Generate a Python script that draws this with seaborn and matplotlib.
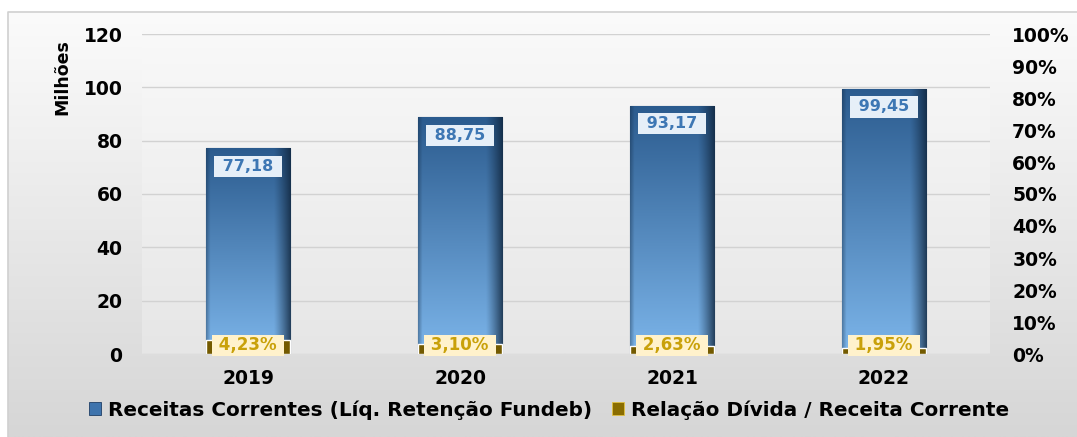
import numpy as np
import pandas as pd
import seaborn as sns
import matplotlib.pyplot as plt
from matplotlib.patches import Patch
from matplotlib.colors import to_rgb

# Dados do gráfico
anos = ['2019', '2020', '2021', '2022']
receitas = [77.18, 88.75, 93.17, 99.45]  # milhões
relacao = [4.23, 3.10, 2.63, 1.95]  # %
rotulos_receita = ['77,18', '88,75', '93,17', '99,45']
rotulos_relacao = ['4,23%', '3,10%', '2,63%', '1,95%']

df = pd.DataFrame({'Ano': anos, 'Receita': receitas, 'Relacao': relacao})

sns.set_theme(style="white")
plt.rcParams['font.family'] = ['DejaVu Sans']
plt.rcParams['font.weight'] = 'bold'
plt.rcParams['text.color'] = 'black'

W, H = 1077, 437
fig = plt.figure(figsize=(W / 100, H / 100), dpi=100)
fig.patch.set_facecolor('white')


def gradiente_vertical(c_top, c_bot, n=256):
    t = np.linspace(0, 1, n)[:, None]
    a, b = np.array(to_rgb(c_top)), np.array(to_rgb(c_bot))
    return (a * (1 - t) + b * t)[:, None, :].repeat(2, axis=1)


# Fundo com degradê
bg = fig.add_axes([0, 0, 1, 1], zorder=-2)
bg.set_xlim(0, W)
bg.set_ylim(H, 0)
bg.axis('off')
bg.imshow(gradiente_vertical('#fbfbfb', '#d6d6d6'), extent=(8, W, H, 12), aspect='auto')
bg.plot([8, 8, W], [H, 12, 12], color='#d0d0d0', lw=1.2)
# área de plotagem um pouco mais clara
bg.imshow(gradiente_vertical('#f9f9f9', '#e6e6e6'), extent=(142, 990, 354, 30), aspect='auto')

ax = fig.add_axes([142 / W, 1 - 354 / H, (990 - 142) / W, (354 - 34) / H])
ax.set_facecolor('none')
sns.barplot(data=df, x='Ano', y='Receita', ax=ax, width=0.4, color='#3a6ea5', saturation=1, zorder=3)
ax.set_xlim(-0.5, 3.5)
ax.set_ylim(0, 120)
ax.set_yticks(range(0, 121, 20))
ax.yaxis.grid(True, color='#d2d2d2', lw=1)
ax.set_axisbelow(True)
for s in ax.spines.values():
    s.set_visible(False)
ax.tick_params(axis='y', length=0, pad=14, labelsize=13.5, labelcolor='black')
ax.tick_params(axis='x', length=0, pad=11, labelsize=13.5, labelcolor='black')
ax.set_xlabel('')
ax.set_ylabel('Milhões', fontsize=12.5, fontweight='bold', color='black')
ax.yaxis.set_label_coords(-0.083, 0.865)

# degradê azul nas barras
t = np.linspace(0, 1, 200)[:, None]
topo, base = np.array(to_rgb('#2b5b8e')), np.array(to_rgb('#7cb5ea'))
img = topo * (1 - t[:, :, None]) + base * t[:, :, None]
img = img.repeat(100, axis=1)
u = np.linspace(0, 1, 100)
sombra = np.clip((u - 0.8) / 0.2, 0, 1) ** 1.2 * 0.78 + np.clip((0.05 - u) / 0.05, 0, 1) * 0.35
img = img * (1 - sombra[None, :, None]) + np.array(to_rgb('#0e2238')) * sombra[None, :, None]
for p in ax.patches:
    x0, y0, w, h = p.get_x(), p.get_y(), p.get_width(), p.get_height()
    im = ax.imshow(img, extent=(x0, x0 + w, y0, y0 + h), aspect='auto', zorder=3, origin='upper')
    im.set_clip_path(p)
    p.set_facecolor('none')
    p.set_edgecolor('#1d3d62')
    p.set_linewidth(0.8)
ax.set_xlim(-0.5, 3.5)
ax.set_ylim(0, 120)

for i, v in enumerate(receitas):
    ax.text(i, v - 6.8, ' ' + rotulos_receita[i] + ' ', ha='center', va='center', fontsize=11.5,
            fontweight='bold', color='#3d77b4', zorder=6,
            bbox=dict(boxstyle='square,pad=0.2', fc='#e6eff8', ec='none'))

# eixo secundário (%)
ax2 = ax.twinx()
sns.barplot(data=df, x='Ano', y='Relacao', ax=ax2, width=0.4, color='#735a00', saturation=1, zorder=4)
ax2.set_xlim(-0.5, 3.5)
ax2.set_ylim(0, 100)
ax2.set_yticks(range(0, 101, 10))
ax2.set_yticklabels([f'{v}%' for v in range(0, 101, 10)])
ax2.tick_params(axis='y', length=0, pad=16, labelsize=13.5, labelcolor='black')
ax2.set_ylabel('')
for s in ax2.spines.values():
    s.set_visible(False)

for i, v in enumerate(relacao):
    ax2.text(i, 2.7, ' ' + rotulos_relacao[i] + ' ', ha='center', va='center', fontsize=12,
             fontweight='bold', color='#c9a10a', zorder=7, clip_on=False,
             bbox=dict(boxstyle='square,pad=0.08', fc='#fff2cc', ec='none'))

handles = [Patch(facecolor='#3f74ad', edgecolor='#1f3f66', lw=0.6),
           Patch(facecolor='#8a6d00', edgecolor='#e0c040', lw=0.6)]
leg = fig.legend(handles, ['Receitas Correntes (Líq. Retenção Fundeb)', 'Relação Dívida / Receita Corrente'],
                 loc='center', bbox_to_anchor=(0.51, 1 - 410 / H), ncol=2, frameon=False,
                 prop={'size': 14.4, 'weight': 'bold'}, handlelength=0.6, handleheight=0.6,
                 handletextpad=0.35, columnspacing=1.0)
for txt in leg.get_texts():
    txt.set_color('black')

plt.savefig('out.png', dpi=100)
plt.close()
